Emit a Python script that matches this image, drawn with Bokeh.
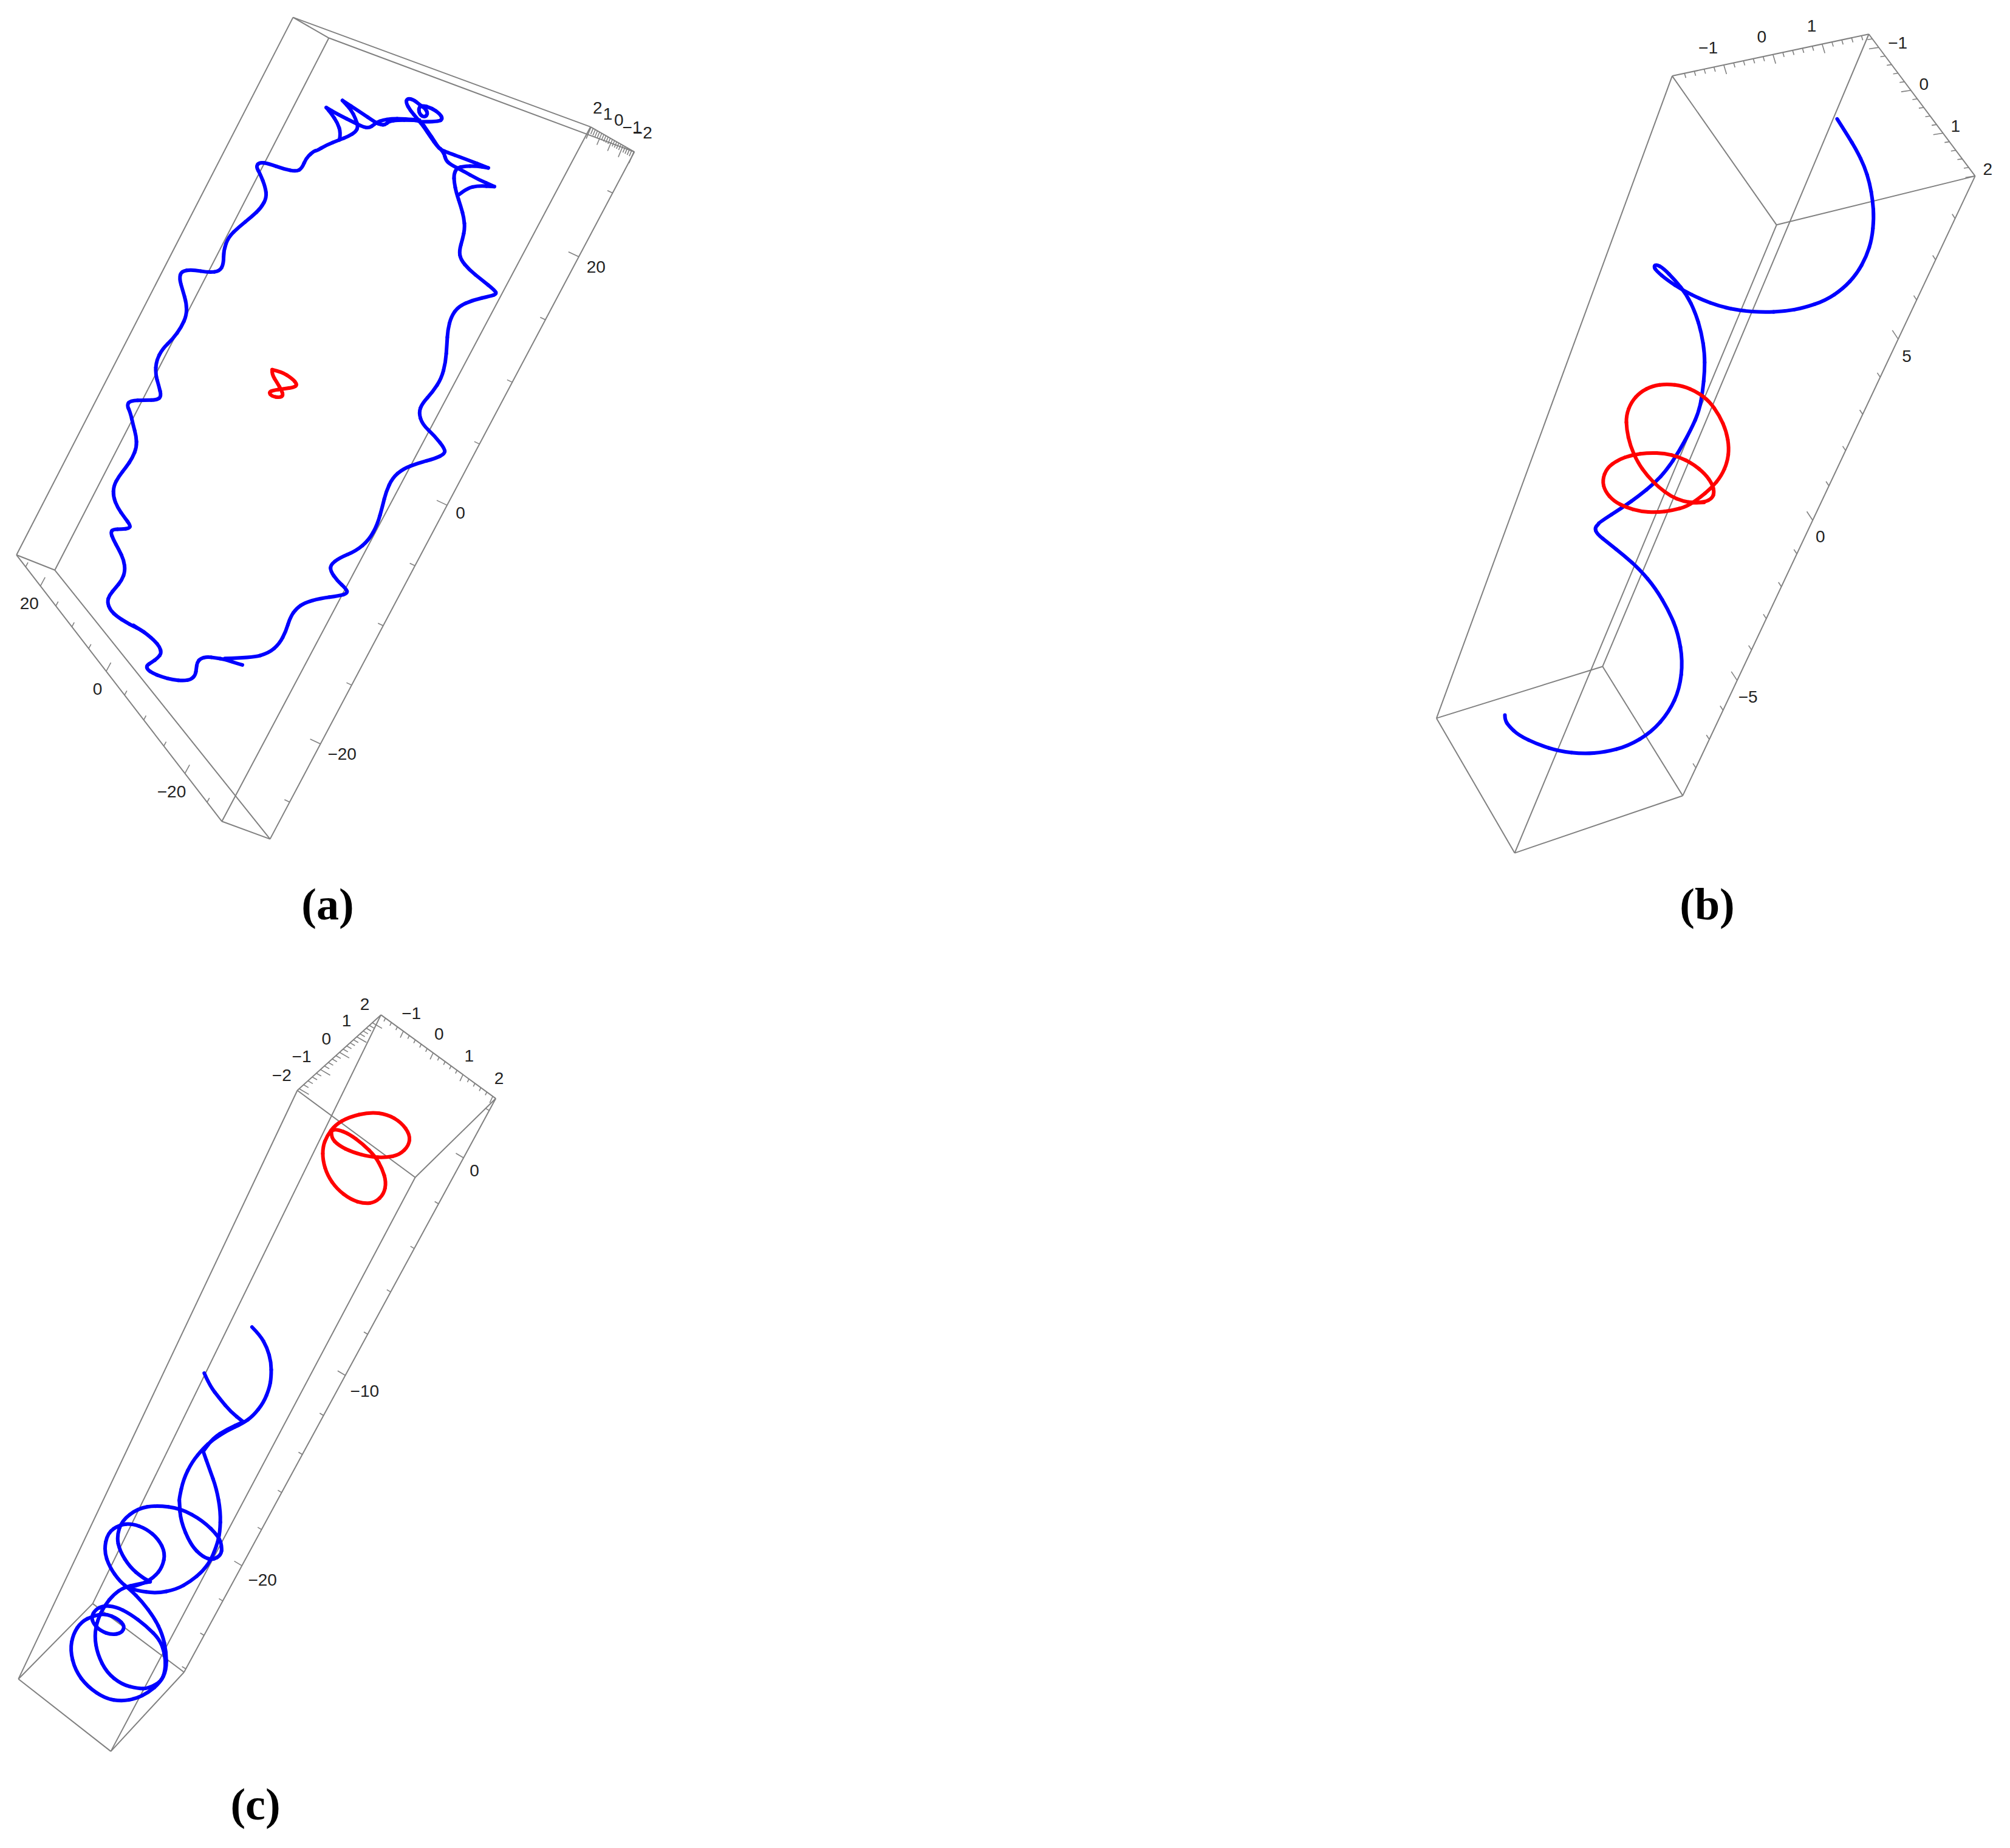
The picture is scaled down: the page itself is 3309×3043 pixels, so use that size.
from bokeh.plotting import figure
from bokeh.embed import file_html
from bokeh.resources import INLINE
from bokeh.core.properties import value

# Projected (on-page) readings of a 3D view: (crop, points)
CROPS = {
    "z1": (0, 0, 1100 / 1568, 760 / 1568),
    "z2": (0, 700, 1100 / 1568, 800 / 1568),
    "z3": (2300, 0, 1009 / 1568, 760 / 1568),
    "z4": (2300, 700, 1009 / 1568, 800 / 1568),
    "z5": (0, 1620, 900 / 1568, 700 / 1568),
    "z6": (0, 2280, 900 / 1568, 763 / 1568),
    "z7": (520, 140, 1 / 3, 1 / 3),
    "z8": (950, 150, 1 / 3, 1 / 3),
    "z10": (100, 2440, 1 / 3, 1 / 3),
    "z11": (420, 1640, 1 / 3, 1 / 3),
    "z12": (2620, 620, 1 / 3, 1 / 3),
}

a_blue_main = [
    ("z2", [(568,773),(548,765),(527,755),(505,750),(485,747),(470,752),(462,765),(460,785),(458,805),(448,820),(430,824),(405,821),(380,812),(358,800),(345,788),(343,775),(355,765),(370,750),(378,735),(374,715),(362,695),(345,675),(328,658),(312,648),(295,635),(275,618),(258,596),(251,570),(256,548),(270,525),(285,500),(293,470),(290,435),(278,400),(265,368),(259,345),(265,335),(285,335),(303,332),(305,322),(292,298),(275,265),(265,230),(266,195),(278,165),(295,135),(310,105),(320,70),(319,35),(312,0)]),
    ("z1", [(305,1400),(297,1375),(305,1360),(340,1358),(368,1358),(378,1345),(372,1310),(364,1270),(366,1225),(380,1185),(405,1150),(425,1110),(437,1070),(437,1030),(428,985),(420,945),(425,920),(450,915),(490,925),(515,920),(524,895),(524,850),(535,805),(560,770),(590,735),(612,705),(625,670),(622,635),(610,590),(600,565),(608,550),(630,555),(665,573),(695,582),(708,570),(718,535),(738,510)]),
    ("z7", [(0,325),(50,295),(113,270),(160,252),(195,230),(207,205),(195,165),(172,120),(130,75),(130,75),(215,130),(295,185),(320,195),(340,195),(360,178),(400,172),(470,172),(515,175),(550,225),(590,285),(605,310),(630,325),(740,365),(850,408),(850,408),(790,398),(730,400),(695,408),(680,440),(682,480),(692,530),(715,600)]),
    ("z1", [(1088,740),(1090,775),(1085,810),(1077,850),(1080,880),(1100,915),(1130,950),(1160,985),(1165,998),(1150,1005),(1110,1018),(1075,1040),(1058,1075),(1050,1120),(1048,1170),(1045,1230),(1035,1285),(1015,1330),(990,1370),(982,1400),(990,1440)]),
    ("z2", [(1020,35),(1043,75),(1043,92),(1020,107),(980,122),(945,140),(920,170),(905,215),(897,260),(885,320),(865,370),(835,405),(795,428),(775,450),(775,470),(790,500),(812,528),(815,542),(795,550),(750,558),(715,572),(695,590),(680,620),(670,665),(655,705),(630,735),(590,750),(527,752)]),
]
a_blue_spur = [("z2", [(312,645),(338,668)])]
a_blue_left = [("z7", [(115,270),(122,235),(105,185),(75,140),(50,110),(50,110),(100,140),(200,190),(235,207),(262,210),(285,195),(300,182),(330,172),(370,165),(430,165),(510,172)])]
a_blue_loop = [("z7", [(520,180),(605,180),(625,165),(610,140),(570,112),(520,98),(505,115),(512,145),(535,158),(552,142),(540,115),(510,95),(480,70),(450,65),(443,85),(465,125),(500,165),(535,210),(565,255),(600,305),(615,315)])]
a_blue_right = [("z7", [(615,315),(632,335),(640,370),(665,392),(720,420),(800,465),(880,500),(880,500),(800,496),(745,508),(705,540)])]
a_red = [("z1", [(638,1255),(660,1262),(685,1285),(697,1305),(690,1315),(665,1320),(640,1325),(630,1332),(637,1345),(655,1350),(664,1343),(660,1325),(650,1300),(637,1270),(638,1255)])]

b_blue = [
    ("z3", [(1125,403),(1150,455),(1175,510),(1195,565),(1208,620),(1216,680),(1219,740),(1214,810),(1200,870),(1175,930),(1140,980),(1095,1020),(1040,1045),(990,1057),(935,1060),(880,1055),(825,1040),(775,1015),(730,985),(690,950),(663,920),(656,905),(662,897),(680,910),(710,950),(740,1000),(762,1060),(778,1130),(786,1200),(786,1260)]),
    ("z12", [(548,70),(530,170),(490,260),(430,370),(370,460),(310,525),(230,590),(160,640),(35,720)]),
    ("z4", [(515,318),(505,330),(510,350),(540,380),(580,420),(620,465),(660,525),(695,600),(718,670),(730,760),(722,850),(695,925),(650,990),(590,1035),(530,1055),(475,1060),(415,1052),(360,1030),(310,1000),(285,970),(275,950),(275,935)]),
]
b_red = [("z12", [(505,622),(555,620),(595,600),(605,570),(595,530),(560,480),(500,430),(430,395),(360,378),(280,375),(200,385),(130,410),(75,450),(52,510),(65,565),(110,615),(170,645),(240,665),(320,670),(400,660),(470,640),(530,600),(590,550),(640,490),(670,420),(678,350),(665,270),(630,190),(580,120),(520,75),(450,45),(370,35),(300,45),(240,75),(195,125),(170,190),(172,260),(190,340),(225,420),(275,490),(330,545),(390,590),(450,615),(505,622),(555,620)])]

c_blue_a = [
    ("z5", [(722,1265),(745,1295),(765,1340),(777,1395),(777,1450)]),
    ("z6", [(772,10),(755,60),(725,105),(695,130),(650,155),(610,185),(582,215),(550,260),(525,320),(513,385)]),
    ("z10", [(585,100),(590,190),(640,310),(700,370),(750,385),(790,360),(795,320),(780,270),(700,190),(590,130),(470,115),(380,130),(300,190),(275,270),(290,340),(340,420),(400,470),(440,492),(440,492),(375,505),(310,520),(260,555),(215,610),(180,680),(165,760),(180,850),(225,940),(300,1000),(380,1020),(430,1020),(495,985),(515,930),(515,860),(490,780),(420,710),(340,650),(270,615),(210,610),(170,630),(150,665),(160,700),(195,735),(250,755),(300,745),(315,710),(280,675),(220,650),(160,660),(100,690),(60,750),(45,830),(70,930),(130,1010),(220,1070),(300,1082),(370,1070),(430,1040),(490,990),(520,930),(520,840),(500,750),(460,670),(400,590),(340,530),(290,490),(240,420),(212,340),(230,250),(290,210),(350,205),(420,230),(480,280),(515,350),(500,420),(460,470),(400,505),(340,520)]),
]
c_blue_b = [
    ("z5", [(585,1435),(600,1480),(630,1530)]),
    ("z6", [(660,90),(697,125),(697,125),(650,150),(610,180),(582,225),(582,225),(600,285),(620,350),(632,430),(630,500)]),
    ("z10", [(770,310),(740,385),(700,440),(640,490),(570,530),(470,550),(370,535),(340,525)]),
]
c_red = [("z5", [(950,540),(950,540),(965,535),(1000,552),(1040,590),(1075,635),(1095,680),(1107,730),(1100,775),(1075,805),(1045,810),(1005,795),(965,755),(938,705),(925,650),(925,600),(937,560),(960,520),(1000,490),(1060,472),(1110,480),(1150,510),(1175,555),(1172,595),(1145,630),(1105,640),(1060,637),(1010,620),(970,595),(948,565),(950,540)])]

# Tick values
unit_ticks = [-2.0,-1.8,-1.6,-1.4,-1.2,-1.0,-0.8,-0.6,-0.4,-0.2,0.0,0.2,0.4,0.6,0.8,1.0,1.2,1.4,1.6,1.8,2.0]
a_long_ticks = [-25,-20,-15,-10,-5,0,5,10,15,20,25]
b_long_ticks = [-8,-7,-6,-5,-4,-3,-2,-1,0,1,2,3,4,5,6,7,8]
c_long_ticks = [-26,-24,-22,-20,-18,-16,-14,-12,-10,-8,-6,-4,-2,0,2]

# Box corners (crop, x, y)
a_box = dict(A=("z1",687,58), B=("z1",771,128), Q=("z1",1385,430), R=("z1",1488,515),
             U=("z2",38,418), V=("z2",128,467), S=("z2",520,1278), T=("z2",633,1335))
a_edges = ["AB","AQ","BR","QR","AU","BV","QS","RT","UV","US","VT","ST"]
b_box = dict(A=("z3",703,257), B=("z3",1206,115), C=("z3",1478,597), D=("z3",970,763),
             E=("z4",100,945), F=("z4",525,778), G=("z4",730,1195), H=("z4",300,1380))
b_edges = ["AB","BC","CD","DA","AE","BF","CG","DH","EF","FG","GH","HE"]
c_box = dict(A=("z11",207,465), B=("z11",620,92), C=("z11",1187,505), D=("z5",1190,713),
             E=("z6",52,995), F=("z6",265,740), G=("z6",527,972), H=("z6",317,1240))
c_edges = ["AB","BC","CD","DA","AE","BF","CG","DH","EF","FG","GH","HE"]

# Axis: box, start, end, value at start, value at end, perspective, ticks, major step, tick vector
axes = [
    (a_box,"R","T",28.2,-28.2,0.945,a_long_ticks,20,(-17,-8)),
    (a_box,"U","S",28.2,-28.2,1.29,a_long_ticks,20,(7.7,-14.3)),
    (a_box,"Q","R",2.05,-2.05,1.0,unit_ticks,1,(-8,19)),
    (b_box,"A","B",-2.05,1.95,1.0,unit_ticks[1:-1],1,(4.5,15)),
    (b_box,"B","C",-1.31,2.0,1.0,unit_ticks[4:],1,(-16,2.4)),
    (b_box,"C","G",9,-9,0.80,b_long_ticks,5,(-9.65,-14.5)),
    (c_box,"A","B",-2.08,2.6,0.786,unit_ticks,1,(16,9.3)),
    (c_box,"B","C",-1.75,2.1,1.0,unit_ticks[2:],1,(-5,10.7)),
    (c_box,"C","G",2.5,-26.2,0.827,c_long_ticks,10,(-12.6,-7.5)),
]

tick_labels = [
    ("20","z1",1398,905),("0","z2",1080,282),("\u221220","z2",802,1060),
    ("20","z2",68,575),("0","z2",228,850),("\u221220","z2",402,1182),
    ("2","z8",100,82),("1","z8",150,112),("0","z8",205,142),("\u22121","z8",270,177),("\u22122","z8",322,203),
    ("\u22121","z3",795,160),("0","z3",932,123),("1","z3",1060,87),
    ("\u22121","z3",1280,145),("0","z3",1347,285),("1","z3",1428,428),("2","z3",1510,573),
    ("5","z3",1303,1210),("0","z4",1082,358),("\u22125","z4",897,877),
    ("\u22122","z11",130,390),("\u22121","z11",228,298),("0","z11",350,210),("1","z11",450,120),("2","z11",540,38),
    ("\u22121","z11",770,85),("0","z11",907,187),("1","z11",1055,295),("2","z11",1203,405),
    ("0","z5",1360,687),("\u221210","z5",1045,1500),("\u221220","z6",752,660),
]
panel_labels = [("(a)",539,1488),("(b)",2810,1488),("(c)",420,2970)]


def pt(crop, x, y):
    x0, y0, sx, sy = CROPS[crop]
    return x0 + x * sx, y0 + y * sy


def path(parts):
    xs, ys = [], []
    for crop, pts in parts:
        for x, y in pts:
            X, Y = pt(crop, x, y)
            xs.append(X)
            ys.append(Y)
    return xs, ys


p = figure(width=3293, height=3027, x_range=(0, 3293), y_range=(3027, 0),
           x_axis_type=None, y_axis_type=None, toolbar_location=None,
           output_backend="svg", min_border=0, outline_line_color=None,
           background_fill_color="white", border_fill_color="white")
p.grid.visible = False

GRAY = "#808080"
for box, edges in [(a_box, a_edges), (b_box, b_edges), (c_box, c_edges)]:
    for e in edges:
        x0, y0 = pt(*box[e[0]])
        x1, y1 = pt(*box[e[1]])
        p.line([x0, x1], [y0, y1], line_color=GRAY, line_width=2)

sx0, sy0, sx1, sy1 = [], [], [], []
for box, s, e, v0, v1, k, ticks, major, vec in axes:
    x0, y0 = pt(*box[s])
    x1, y1 = pt(*box[e])
    for v in ticks:
        t = (v - v0) / (v1 - v0)
        f = t / (t + k * (1 - t))
        bx, by = x0 + f * (x1 - x0), y0 + f * (y1 - y0)
        is_major = abs(v / major - round(v / major)) < 1e-6
        m = 1.0 if is_major else 0.5
        sx0.append(bx)
        sy0.append(by)
        sx1.append(bx + m * vec[0])
        sy1.append(by + m * vec[1])
p.segment(sx0, sy0, sx1, sy1, line_color=GRAY, line_width=1.6)


def curve(parts, color):
    # smooth drawing: each read point is the control point of one quadratic piece
    xs, ys = path(parts)
    n = len(xs)
    if n < 3:
        p.line(xs, ys, line_color=color, line_width=6, line_cap="round")
        return
    mx = [(xs[i] + xs[i + 1]) / 2 for i in range(n - 1)]
    my = [(ys[i] + ys[i + 1]) / 2 for i in range(n - 1)]
    x0 = [xs[0]] + mx[1:-1]
    y0 = [ys[0]] + my[1:-1]
    x1 = mx[1:-1] + [xs[-1]]
    y1 = my[1:-1] + [ys[-1]]
    p.quadratic(x0, y0, x1, y1, xs[1:-1], ys[1:-1], line_color=color, line_width=6, line_cap="round")


for parts in [a_blue_main, a_blue_spur, a_blue_left, a_blue_loop, a_blue_right, b_blue, c_blue_a, c_blue_b]:
    curve(parts, "#0000ff")
for parts in [a_red, b_red, c_red]:
    curve(parts, "#ff0000")

lab = [pt(c, x, y) for _, c, x, y in tick_labels]
p.text([q[0] for q in lab], [q[1] for q in lab], text=[t[0] for t in tick_labels],
       text_font=value("Liberation Sans"), text_font_size="28px", text_color="#222222",
       text_align="center", text_baseline="middle")
p.text([q[1] for q in panel_labels], [q[2] for q in panel_labels], text=[q[0] for q in panel_labels],
       text_font=value("Liberation Serif"), text_font_style="bold", text_font_size="74px",
       text_color="#000000", text_align="center", text_baseline="middle")

open("out.html", "w").write(file_html(p, INLINE))
